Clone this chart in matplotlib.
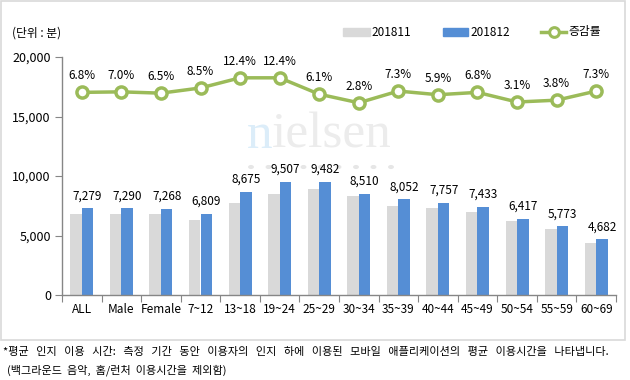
import matplotlib
matplotlib.use("Agg")
import matplotlib.pyplot as plt
from matplotlib.patches import Rectangle, Circle
from matplotlib.lines import Line2D
import numpy as np

plt.rcParams['font.family'] = ['Noto Sans CJK KR', 'DejaVu Sans']

categories = ["ALL", "Male", "Female", "7~12", "13~18", "19~24", "25~29",
              "30~34", "35~39", "40~44", "45~49", "50~54", "55~59", "60~69"]
nov_2018 = [6815, 6813, 6824, 6276, 7718, 8459, 8937, 8278, 7504, 7325, 6960, 6224, 5562, 4364]
dec_2018 = [7279, 7290, 7268, 6809, 8675, 9507, 9482, 8510, 8052, 7757, 7433, 6417, 5773, 4682]
change_pct = [6.8, 7.0, 6.5, 8.5, 12.4, 12.4, 6.1, 2.8, 7.3, 5.9, 6.8, 3.1, 3.8, 7.3]
yticks = [0, 5000, 10000, 15000, 20000]
series_names = ["201811", "201812", "증감률"]

GRAY = "#d9d9d9"
BLUE = "#558ed5"
GREEN = "#9bbb59"
AXC = "#868686"
W, H = 630, 380

fig = plt.figure(figsize=(6.3, 3.8), dpi=100)
fig.patch.set_facecolor("white")

def fx(px):
    return px / W

def fy(py):
    return 1 - py / H

# outer border
fig.patches.append(Rectangle((fx(0.5), fy(339.5)), fx(625) - fx(0.5), fy(1) - fy(339.5),
                             transform=fig.transFigure, fill=False, edgecolor=GRAY, lw=1.2))

ax = fig.add_axes([fx(62), fy(295), fx(616) - fx(62), fy(57) - fy(295)])
x = np.arange(len(categories))
bw = 0.29
ax.bar(x - bw / 2, nov_2018, width=bw, color=GRAY, zorder=2)
ax.bar(x + bw / 2, dec_2018, width=bw, color=BLUE, zorder=2)
for xi, v in zip(x, dec_2018):
    ax.annotate(f"{v:,}", (xi + bw / 2, v), xytext=(0, 6.5), textcoords="offset points",
                ha="center", va="baseline", fontsize=8.5, color="#000000", zorder=5)

ax.set_xlim(-0.5, len(categories) - 0.5)
ax.set_ylim(0, 20000)
ax.set_yticks(yticks)
ax.set_yticklabels([f"{t:,}" for t in yticks], fontsize=9)
ax.set_xticks(np.arange(-0.5, len(categories), 1.0))
ax.set_xticklabels([])
ax.set_xticks(x, minor=True)
ax.set_xticklabels(categories, minor=True, fontsize=8.5)
ax.tick_params(axis="x", which="major", length=5, color=AXC, direction="out")
ax.tick_params(axis="x", which="minor", length=0, pad=6)
ax.tick_params(axis="y", length=5, color=AXC, direction="out", pad=3)
for s in ["top", "right"]:
    ax.spines[s].set_visible(False)
for s in ["left", "bottom"]:
    ax.spines[s].set_color(AXC)
    ax.spines[s].set_linewidth(1.0)

# watermark
ax.text(fx(247), fy(148), "n", transform=fig.transFigure, fontsize=37,
        family="Liberation Serif", color="#dcedf9", ha="left", va="baseline", zorder=0.6)
ax.text(fx(272), fy(148), "ielsen", transform=fig.transFigure, fontsize=37,
        family="Liberation Serif", color="#ececec", ha="left", va="baseline", zorder=0.5)
for i in range(9):
    ax.add_patch(Circle((fx(251 + i * 17.5), fy(167)), 0.0035, transform=fig.transFigure,
                        color="#e6e6e6", zorder=0.5))

ax2 = ax.twinx()
ax2.plot(x, change_pct, color=GREEN, lw=2.5, marker="o", markersize=8,
         markerfacecolor="white", markeredgecolor=GREEN, markeredgewidth=2.5, zorder=3)
for xi, v in zip(x, change_pct):
    ax2.annotate(f"{v:.1f}%", (xi, v), xytext=(0, 9.5), textcoords="offset points",
                 ha="center", va="baseline", fontsize=8.5, color="#000000")
ax2.set_ylim(-71.1, 20.4)
ax2.set_yticks([])
for s in ax2.spines.values():
    s.set_visible(False)

# unit label
fig.text(fx(12), fy(33), "(단위 : 분)", fontsize=8.5, ha="left", va="center")

# legend (manual)
fig.patches.append(Rectangle((fx(343), fy(36)), fx(27), fy(28) - fy(36),
                             transform=fig.transFigure, color=GRAY))
fig.text(fx(371), fy(32), series_names[0], fontsize=8.5, ha="left", va="center")
fig.patches.append(Rectangle((fx(443), fy(36)), fx(25), fy(28) - fy(36),
                             transform=fig.transFigure, color=BLUE))
fig.text(fx(470), fy(32), series_names[1], fontsize=8.5, ha="left", va="center")
fig.lines.append(Line2D([fx(541), fx(566)], [fy(32), fy(32)], transform=fig.transFigure,
                        color=GREEN, lw=2.5))
fig.lines.append(Line2D([fx(553.5)], [fy(32)], transform=fig.transFigure, marker="o",
                        markersize=7, markerfacecolor="white", markeredgecolor=GREEN,
                        markeredgewidth=2.2, color=GREEN))
fig.text(fx(568), fy(32), series_names[2], fontsize=8.5, ha="left", va="center")

# footnote
fig.text(fx(3), fy(352), "*평균   인지   이용   시간:   측정   기간   동안   이용자의   인지   하에   이용된   모바일   애플리케이션의   평균   이용시간을   나타냅니다.",
         fontsize=8.0, ha="left", va="center")
fig.text(fx(7), fy(370), "(백그라운드  음악,  홈/런처  이용시간을  제외함)", fontsize=8.0,
         ha="left", va="center")

fig.savefig("out.png", dpi=100, facecolor="white")
